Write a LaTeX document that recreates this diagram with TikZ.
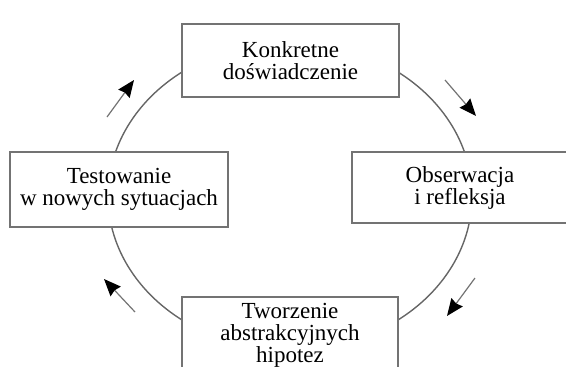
\documentclass[tikz,border=0pt]{standalone}
\usepackage{fontspec}
\setmainfont{Liberation Serif}
\usepackage{tikz}
\usetikzlibrary{shapes, arrows, arrows.meta}

\begin{document}
\begin{tikzpicture}[x=1pt, y=-1pt,
    stagebox/.style={draw=black!55, line width=1.6pt, fill=white, align=center,
      inner sep=0pt, font=\fontsize{23}{22}\selectfont},
    cycle/.style={draw=black!60, line width=1.4pt},
    turn/.style={draw=black!55, line width=1.2pt,
      -{Stealth[length=17pt, width=14pt, inset=1.5pt, color=black]}}]
  \useasboundingbox (0,0) rectangle (566,367);
  \draw[cycle] (290,196) ellipse [x radius=182, y radius=154];
  % the four stages
  \node[stagebox, minimum width=217pt, minimum height=73pt] (konkretne) at (290.5,60.5)
    {Konkretne\\doświadczenie};
  \node[stagebox, minimum width=216pt, minimum height=71pt] (obserwacja) at (460,187.5)
    {Obserwacja\\i refleksja};
  \node[stagebox, minimum width=216pt, minimum height=76pt] (tworzenie) at (290,335)
    {Tworzenie\\abstrakcyjnych\\hipotez};
  \node[stagebox, minimum width=218pt, minimum height=75pt] (testowanie) at (119,189.5)
    {Testowanie\\w nowych sytuacjach};
  % direction marks
  \coordinate (a1) at (445,80);  \coordinate (b1) at (476,116);
  \coordinate (a2) at (475,278); \coordinate (b2) at (447,316);
  \coordinate (a3) at (135,312); \coordinate (b3) at (104,279);
  \coordinate (a4) at (107,117); \coordinate (b4) at (134,80);
  \draw[turn] (a1) -- (b1);
  \draw[turn] (a2) -- (b2);
  \draw[turn] (a3) -- (b3);
  \draw[turn] (a4) -- (b4);
\end{tikzpicture}
\end{document}
